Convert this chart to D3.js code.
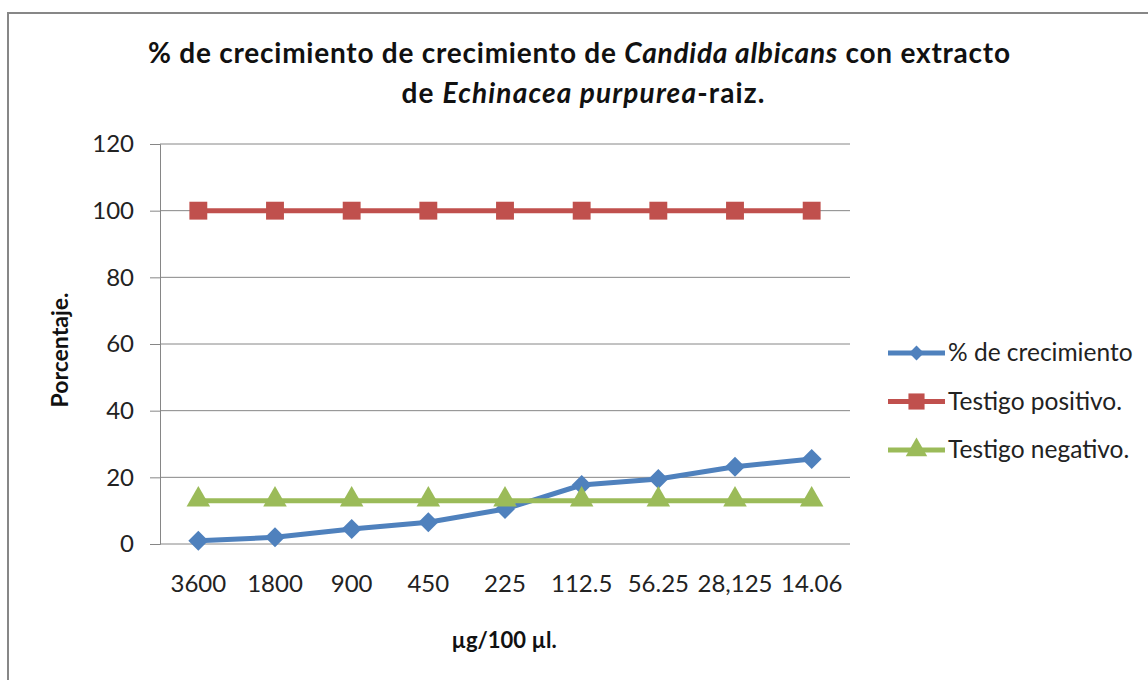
<!DOCTYPE html>
<html>
<head>
<meta charset="utf-8">
<script src="https://cdn.jsdelivr.net/npm/d3@7"></script>
<style>
    body { margin: 0; background: #fff; }
    svg { font-family: Lato, "Open Sans", sans-serif; }
</style>
</head>
<body>
<script>
const width = 1148;
const height = 680;

const categories = ["3600", "1800", "900", "450", "225", "112.5", "56.25", "28,125", "14.06"];
const crecimiento = [1.0, 2.0, 4.5, 6.5, 10.5, 17.7, 19.5, 23.2, 25.5];
const testigoPositivo = [100, 100, 100, 100, 100, 100, 100, 100, 100];
const testigoNegativo = [13, 13, 13, 13, 13, 13, 13, 13, 13];
const yTicks = [0, 20, 40, 60, 80, 100, 120];

const series = [
    { name: "% de crecimiento", values: crecimiento, color: "#4F81BD", shape: "diamond" },
    { name: "Testigo positivo.", values: testigoPositivo, color: "#C0504D", shape: "square" },
    { name: "Testigo negativo.", values: testigoNegativo, color: "#9BBB59", shape: "triangle" }
];

const margin = { left: 160, right: 298, top: 144, bottom: 136 };

let svg = d3.select("body").append("svg")
    .attr("width", width)
    .attr("height", height)

// outer chart border (only left + top visible in the crop)
svg.append("path")
    .attr("d", "M8,680 V13 H1148")
    .attr("fill", "none")
    .attr("stroke", "#878787")
    .attr("stroke-width", 2)

let x = d3.scalePoint()
    .domain(categories)
    .range([margin.left, width - margin.right])
    .padding(0.5);

let y = d3.scaleLinear()
    .domain([0, 120])
    .range([height - margin.bottom, margin.top]);

// gridlines + y axis
let yAxis = svg.append("g")
    .attr("transform", "translate(" + margin.left + ",0)")
    .call(d3.axisLeft(y).tickValues(yTicks).tickSize(10).tickPadding(16))
yAxis.select(".domain").attr("stroke", "#868686")
yAxis.selectAll(".tick line").attr("stroke", "#868686")
yAxis.selectAll(".tick text")
    .attr("font-size", 24)
    .attr("fill", "#222")
    .attr("font-family", "Lato")

svg.append("g")
    .selectAll("line")
    .data(yTicks)
    .enter()
    .append("line")
    .attr("x1", margin.left)
    .attr("x2", width - margin.right)
    .attr("y1", d => y(d))
    .attr("y2", d => y(d))
    .attr("stroke", "#868686")
    .attr("stroke-width", 1)

// x labels
svg.append("g")
    .selectAll("text")
    .data(categories)
    .enter()
    .append("text")
    .attr("x", d => x(d))
    .attr("y", 592)
    .attr("text-anchor", "middle")
    .attr("font-size", 24)
    .attr("fill", "#222")
    .text(d => d)

const symbols = {
    diamond: d3.symbol().type(d3.symbolSquare).size(200),
    square: d3.symbol().type(d3.symbolSquare).size(320),
    triangle: d3.symbol().type(d3.symbolTriangle).size(240)
};

let line = d3.line()
    .x((d, i) => x(categories[i]))
    .y(d => y(d));

series.forEach(function (s) {
    let g = svg.append("g")
    g.append("path")
        .attr("d", line(s.values))
        .attr("fill", "none")
        .attr("stroke", s.color)
        .attr("stroke-width", 5)
        .attr("stroke-linejoin", "round")
    g.selectAll("path.mark")
        .data(s.values)
        .enter()
        .append("path")
        .attr("class", "mark")
        .attr("d", symbols[s.shape])
        .attr("fill", s.color)
        .attr("transform", function (d, i) {
            let t = "translate(" + x(categories[i]) + "," + y(d) + ")";
            if (s.shape === "diamond") t += "rotate(45)";
            if (s.shape === "triangle") t += "translate(0,-1)";
            return t;
        })
})

// legend
let legend = svg.append("g")
    .selectAll("g")
    .data(series)
    .enter()
    .append("g")
    .attr("transform", (d, i) => "translate(888," + (353 + i * 48.5) + ")")
legend.append("line")
    .attr("x1", 0)
    .attr("x2", 57)
    .attr("stroke", d => d.color)
    .attr("stroke-width", 5)
legend.append("path")
    .attr("d", d => d.shape === "diamond" ? d3.symbol().type(d3.symbolSquare).size(110)() :
        d.shape === "square" ? d3.symbol().type(d3.symbolSquare).size(260)() :
            d3.symbol().type(d3.symbolTriangle).size(200)())
    .attr("fill", d => d.color)
    .attr("transform", d => "translate(28.5,0)" + (d.shape === "diamond" ? "rotate(45)" : ""))
legend.append("text")
    .attr("x", 60)
    .attr("y", 8)
    .attr("font-size", 24.5)
    .attr("fill", "#222")
    .text(d => d.name)

// title, two lines stretched to the reference widths
let t1 = svg.append("text")
    .attr("x", 579).attr("y", 63)
    .attr("text-anchor", "middle")
    .attr("font-size", 28)
    .attr("font-weight", "bold")
    .attr("fill", "#111")
    .attr("textLength", 862)
    .attr("lengthAdjust", "spacing")
t1.append("tspan").text("% de crecimiento de crecimiento de ")
t1.append("tspan").attr("font-style", "italic").text("Candida albicans")
t1.append("tspan").text(" con extracto")

let t2 = svg.append("text")
    .attr("x", 583).attr("y", 103)
    .attr("text-anchor", "middle")
    .attr("font-size", 28)
    .attr("font-weight", "bold")
    .attr("fill", "#111")
    .attr("textLength", 363)
    .attr("lengthAdjust", "spacing")
t2.append("tspan").text("de ")
t2.append("tspan").attr("font-style", "italic").text("Echinacea purpurea")
t2.append("tspan").text("-raiz.")

// axis titles
svg.append("text")
    .attr("x", 504)
    .attr("y", 648)
    .attr("text-anchor", "middle")
    .attr("font-size", 22)
    .attr("font-weight", "bold")
    .attr("fill", "#111")
    .text("µg/100 µl.")

svg.append("text")
    .attr("transform", "translate(68,350)rotate(-90)")
    .attr("text-anchor", "middle")
    .attr("font-size", 23)
    .attr("font-weight", "bold")
    .attr("fill", "#111")
    .text("Porcentaje.")
</script>
</body>
</html>
